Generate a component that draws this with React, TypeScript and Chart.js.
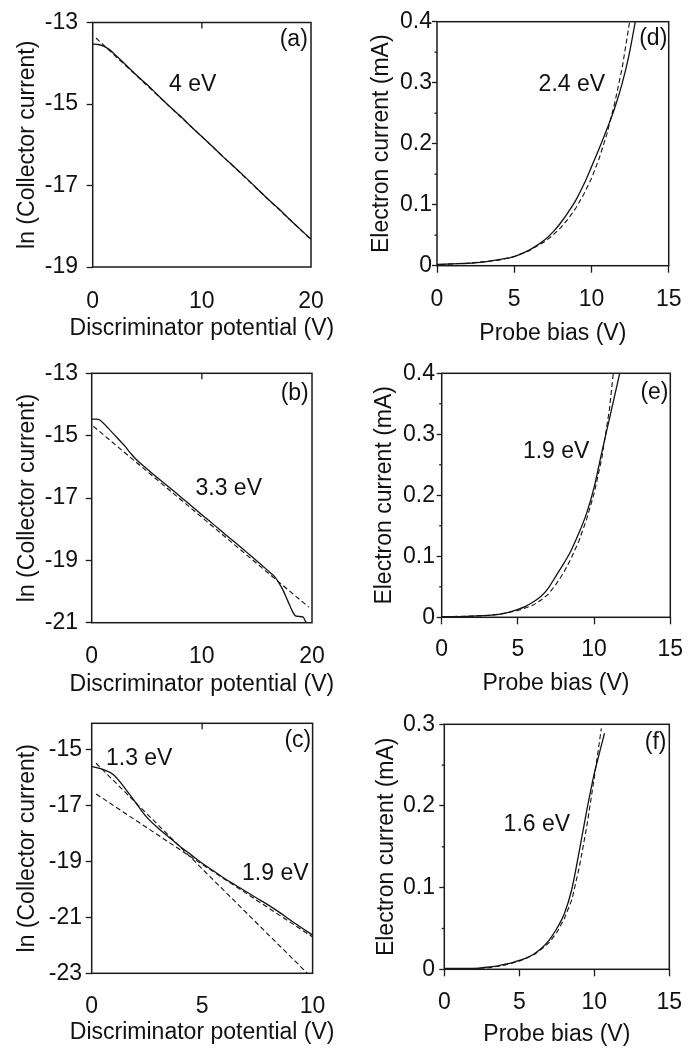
import React, { useEffect, useRef } from "react";
import { Chart, registerables } from "chart.js";

Chart.register(...registerables);

const FONT = '"Liberation Sans", Arial, Helvetica, sans-serif';
const INK = "#111111";

// ---------------- Data ----------------
// (a) 4 eV
const A_V = [0, 0.5, 1, 1.5, 2, 3, 4, 5, 6, 7, 8, 9, 10, 11, 12, 13, 14, 15, 16, 17, 18, 19, 20];
const A_LN = [-13.53, -13.54, -13.58, -13.66, -13.78, -14.03, -14.29, -14.53, -14.79, -15.05, -15.29, -15.55, -15.8, -16.05, -16.31, -16.55, -16.8, -17.06, -17.32, -17.56, -17.82, -18.07, -18.32];
const A_FIT_V = [0.3, 10, 20];
const A_FIT_LN = [-13.38, -15.8, -18.33];

// (b) 3.3 eV
const B_V = [0, 0.4, 0.7, 1, 1.5, 2, 2.5, 3, 3.5, 4, 5, 6, 7, 8, 9, 10, 11, 12, 13, 14, 15, 16, 16.6, 17, 17.4, 17.8, 18.2, 18.5, 18.8, 19.2, 19.4, 19.5];
const B_LN = [-14.47, -14.47, -14.49, -14.58, -14.76, -14.95, -15.14, -15.33, -15.55, -15.75, -16.06, -16.36, -16.65, -16.94, -17.24, -17.54, -17.83, -18.13, -18.42, -18.72, -19.02, -19.33, -19.52, -19.72, -19.98, -20.3, -20.62, -20.78, -20.8, -20.82, -20.95, -21.0];
const B_FIT_V = [0.15, 10, 19.7];
const B_FIT_LN = [-14.7, -17.62, -20.5];

// (c) 1.3 eV and 1.9 eV
const C_V = [0, 0.5, 1, 1.5, 2, 2.5, 3, 3.5, 4, 4.5, 5, 5.5, 6, 6.5, 7, 7.5, 8, 8.5, 9, 9.5, 10];
const C_LN = [-15.6, -15.7, -15.9, -16.37, -16.9, -17.42, -17.8, -18.13, -18.46, -18.76, -19.06, -19.33, -19.6, -19.84, -20.08, -20.32, -20.56, -20.82, -21.1, -21.37, -21.63];
const C_FIT1_V = [0.2, 5, 9.76];
const C_FIT1_LN = [-15.48, -19.26, -23.0];
const C_FIT2_V = [0.2, 5, 10];
const C_FIT2_LN = [-16.58, -19.1, -21.7];

// (d) 2.4 eV
const D_V = [0, 1, 2, 3, 4, 5, 6, 7, 7.5, 8, 8.5, 9, 9.5, 10, 10.5, 11, 11.5, 12, 12.4, 12.84];
const D_I = [0.002, 0.003, 0.004, 0.006, 0.01, 0.015, 0.026, 0.043, 0.055, 0.07, 0.088, 0.108, 0.133, 0.162, 0.192, 0.224, 0.258, 0.3, 0.342, 0.4];
const D_FIT_V = [0.2, 2, 4, 5, 6, 7, 7.5, 8, 8.5, 9, 9.5, 10, 10.5, 11, 11.5, 12, 12.47];
const D_FIT_I = [0.002, 0.004, 0.009, 0.015, 0.025, 0.04, 0.05, 0.062, 0.077, 0.095, 0.117, 0.143, 0.176, 0.216, 0.266, 0.326, 0.4];

// (e) 1.9 eV
const E_V = [0, 1, 2, 3, 3.5, 4, 4.5, 5, 5.5, 6, 6.5, 7, 7.5, 8, 8.5, 9, 9.5, 10, 10.5, 11, 11.68];
const E_I = [0.001, 0.001, 0.002, 0.003, 0.004, 0.006, 0.009, 0.013, 0.018, 0.025, 0.034, 0.048, 0.068, 0.088, 0.11, 0.138, 0.17, 0.213, 0.27, 0.325, 0.4];
const E_FIT_V = [0.2, 2, 3, 4, 5, 6, 6.5, 7, 7.5, 8, 8.5, 9, 9.5, 10, 10.5, 11, 11.26];
const E_FIT_I = [0.001, 0.002, 0.003, 0.006, 0.011, 0.02, 0.028, 0.038, 0.054, 0.073, 0.097, 0.125, 0.16, 0.203, 0.26, 0.34, 0.4];

// (f) 1.6 eV
const F_V = [0, 1, 2, 3, 3.5, 4, 4.5, 5, 5.5, 6, 6.5, 7, 7.5, 8, 8.5, 9, 9.5, 10, 10.3, 10.68];
const F_I = [0.001, 0.001, 0.001, 0.003, 0.004, 0.006, 0.008, 0.011, 0.014, 0.019, 0.026, 0.036, 0.05, 0.068, 0.098, 0.145, 0.195, 0.24, 0.262, 0.289];
const F_FIT_V = [0.2, 2, 3, 4, 5, 6, 6.5, 7, 7.5, 8, 8.5, 9, 9.5, 10, 10.47];
const F_FIT_I = [0.001, 0.001, 0.002, 0.005, 0.01, 0.018, 0.025, 0.033, 0.045, 0.062, 0.085, 0.125, 0.175, 0.235, 0.295];

// ---------------- Ticks and labels ----------------
const X_TICKS_AB = [0, 10, 20];
const X_TICKS_C = [0, 5, 10];
const X_TICKS_DEF = [0, 5, 10, 15];
const Y_TICKS_A = [-19, -17, -15, -13];
const Y_TICKS_B = [-21, -19, -17, -15, -13];
const Y_TICKS_C = [-23, -21, -19, -17, -15];
const Y_TICKS_DE = [0, 0.1, 0.2, 0.3, 0.4];
const Y_TICKS_F = [0, 0.1, 0.2, 0.3];
const Y_MINOR_DE = [0.05, 0.15, 0.25, 0.35];
const Y_MINOR_F = [0.05, 0.15, 0.25];

const X_TITLE_LEFT = "Discriminator potential (V)";
const Y_TITLE_LEFT = "ln (Collector current)";
const X_TITLE_RIGHT = "Probe bias (V)";
const Y_TITLE_RIGHT = "Electron current (mA)";

type Series = { x: number[]; y: number[]; dash: boolean };
type Note = { text: string; x: number; y: number };
type Panel = {
  id: string;
  canvas: { x: number; y: number; w: number; h: number };
  area: { l: number; r: number; t: number; b: number };
  yTitleX: number;
  xTitleY: number;
  yLabelRight: number;
  xLabelY: number;
  yTickLen: number;
  xTickLen: number;
  xMin: number;
  xMax: number;
  yMin: number;
  yMax: number;
  xTicks: number[];
  yTicks: number[];
  yMinor: number[];
  topTick: number | null;
  xTitle: string;
  yTitle: string;
  series: Series[];
  notes: Note[];
};

const PANELS: Panel[] = [
  {
    id: "a",
    canvas: { x: 0, y: 0, w: 345, h: 350 },
    area: { l: 92.7, r: 327, t: 20, b: 267 },
    yTitleX: 28, xTitleY: 329, yLabelRight: 78, xLabelY: 302,
    yTickLen: 6, xTickLen: 0,
    xMin: 0, xMax: 20, yMin: -19, yMax: -13,
    xTicks: X_TICKS_AB, yTicks: Y_TICKS_A, yMinor: [], topTick: 10,
    xTitle: X_TITLE_LEFT, yTitle: Y_TITLE_LEFT,
    series: [
      { x: A_V, y: A_LN, dash: false },
      { x: A_FIT_V, y: A_FIT_LN, dash: true },
    ],
    notes: [
      { text: "4 eV", x: 9.16, y: -14.53 },
      { text: "(a)", x: 18.42, y: -13.43 },
    ],
  },
  {
    id: "b",
    canvas: { x: 0, y: 345, w: 345, h: 355 },
    area: { l: 91.7, r: 327, t: 373.3, b: 622.7 },
    yTitleX: 28, xTitleY: 685, yLabelRight: 78, xLabelY: 656.7,
    yTickLen: 6, xTickLen: 0,
    xMin: 0, xMax: 20, yMin: -21, yMax: -13,
    xTicks: X_TICKS_AB, yTicks: Y_TICKS_B, yMinor: [], topTick: 10,
    xTitle: X_TITLE_LEFT, yTitle: Y_TITLE_LEFT,
    series: [
      { x: B_V, y: B_LN, dash: false },
      { x: B_FIT_V, y: B_FIT_LN, dash: true },
    ],
    notes: [
      { text: "3.3 eV", x: 12.44, y: -16.69 },
      { text: "(b)", x: 18.43, y: -13.66 },
    ],
  },
  {
    id: "c",
    canvas: { x: 0, y: 700, w: 345, h: 349 },
    area: { l: 91.7, r: 328.3, t: 723.3, b: 973.3 },
    yTitleX: 28, xTitleY: 1033, yLabelRight: 82, xLabelY: 1006.7,
    yTickLen: 6, xTickLen: 0,
    xMin: 0, xMax: 10, yMin: -23, yMax: -14.05,
    xTicks: X_TICKS_C, yTicks: Y_TICKS_C, yMinor: [], topTick: 5,
    xTitle: X_TITLE_LEFT, yTitle: Y_TITLE_LEFT,
    series: [
      { x: C_V, y: C_LN, dash: false },
      { x: C_FIT1_V, y: C_FIT1_LN, dash: true },
      { x: C_FIT2_V, y: C_FIT2_LN, dash: true },
    ],
    notes: [
      { text: "1.3 eV", x: 2.15, y: -15.3 },
      { text: "1.9 eV", x: 8.31, y: -19.44 },
      { text: "(c)", x: 9.33, y: -14.68 },
    ],
  },
  {
    id: "d",
    canvas: { x: 345, y: 0, w: 350, h: 350 },
    area: { l: 437, r: 680, t: 21.7, b: 265.7 },
    yTitleX: 381.7, xTitleY: 334, yLabelRight: 432, xLabelY: 300,
    yTickLen: 5, xTickLen: 7,
    xMin: 0, xMax: 15, yMin: 0, yMax: 0.4,
    xTicks: X_TICKS_DEF, yTicks: Y_TICKS_DE, yMinor: Y_MINOR_DE, topTick: null,
    xTitle: X_TITLE_RIGHT, yTitle: Y_TITLE_RIGHT,
    series: [
      { x: D_V, y: D_I, dash: false },
      { x: D_FIT_V, y: D_FIT_I, dash: true },
    ],
    notes: [
      { text: "2.4 eV", x: 8.73, y: 0.296 },
      { text: "(d)", x: 14.0, y: 0.372 },
    ],
  },
  {
    id: "e",
    canvas: { x: 345, y: 345, w: 350, h: 355 },
    area: { l: 441.7, r: 679, t: 373.3, b: 617.3 },
    yTitleX: 385, xTitleY: 684, yLabelRight: 435, xLabelY: 650,
    yTickLen: 5, xTickLen: 7,
    xMin: 0, xMax: 15, yMin: 0, yMax: 0.4,
    xTicks: X_TICKS_DEF, yTicks: Y_TICKS_DE, yMinor: Y_MINOR_DE, topTick: null,
    xTitle: X_TITLE_RIGHT, yTitle: Y_TITLE_RIGHT,
    series: [
      { x: E_V, y: E_I, dash: false },
      { x: E_FIT_V, y: E_FIT_I, dash: true },
    ],
    notes: [
      { text: "1.9 eV", x: 7.51, y: 0.2715 },
      { text: "(e)", x: 13.96, y: 0.3685 },
    ],
  },
  {
    id: "f",
    canvas: { x: 345, y: 700, w: 350, h: 349 },
    area: { l: 444.3, r: 679.3, t: 724.3, b: 969.3 },
    yTitleX: 386.7, xTitleY: 1035, yLabelRight: 435, xLabelY: 1003,
    yTickLen: 5, xTickLen: 7,
    xMin: 0, xMax: 15, yMin: 0, yMax: 0.3,
    xTicks: X_TICKS_DEF, yTicks: Y_TICKS_F, yMinor: Y_MINOR_F, topTick: null,
    xTitle: X_TITLE_RIGHT, yTitle: Y_TITLE_RIGHT,
    series: [
      { x: F_V, y: F_I, dash: false },
      { x: F_FIT_V, y: F_FIT_I, dash: true },
    ],
    notes: [
      { text: "1.6 eV", x: 6.17, y: 0.1767 },
      { text: "(f)", x: 14.09, y: 0.2777 },
    ],
  },
];

const TICK_SIZE = 23;
const TITLE_SIZE = 23;
const NOTE_SIZE = 23;

function fmt(v: number): string {
  return String(v);
}

function buildConfig(p: Panel): any {
  const c = p.canvas;
  const padTop = p.area.t - c.y;
  const padRight = c.x + c.w - p.area.r;
  const yWidth = p.area.l - c.x;
  const xHeight = c.y + c.h - p.area.b;
  const tickLH = TICK_SIZE * 1.2;
  const titleLH = TITLE_SIZE * 1.2;
  const yTitlePad = Math.max(0, p.yTitleX - c.x - titleLH / 2);
  const yTickPad = Math.max(0, p.area.l - p.yLabelRight - p.yTickLen);
  const xTickPad = Math.max(0, p.xLabelY - p.area.b - p.xTickLen - tickLH / 2);

  const framePlugin = {
    id: "frame" + p.id,
    afterDraw(chart: any) {
      const { ctx, chartArea } = chart;
      const xs = chart.scales.x;
      const ys = chart.scales.y;
      ctx.save();
      ctx.strokeStyle = "#1a1a1a";
      ctx.lineWidth = 1.5;
      ctx.strokeRect(chartArea.left, chartArea.top, chartArea.right - chartArea.left, chartArea.bottom - chartArea.top);
      ctx.lineWidth = 1.3;
      if (p.topTick !== null) {
        const px = xs.getPixelForValue(p.topTick);
        ctx.beginPath();
        ctx.moveTo(px, chartArea.top);
        ctx.lineTo(px, chartArea.top + 6);
        ctx.stroke();
      }
      for (const v of p.yMinor) {
        const py = ys.getPixelForValue(v);
        ctx.beginPath();
        ctx.moveTo(chartArea.left, py);
        ctx.lineTo(chartArea.left - 2.5, py);
        ctx.stroke();
      }
      ctx.fillStyle = INK;
      ctx.textAlign = "center";
      ctx.textBaseline = "middle";
      ctx.font = `${NOTE_SIZE}px ${FONT}`;
      for (const n of p.notes) {
        ctx.fillText(n.text, xs.getPixelForValue(n.x), ys.getPixelForValue(n.y));
      }
      // x-axis title (drawn unsqueezed, centred on the plot)
      ctx.font = `${TITLE_SIZE}px ${FONT}`;
      ctx.fillText(p.xTitle, (chartArea.left + chartArea.right) / 2, p.xTitleY - c.y);
      ctx.restore();
    },
  };

  const datasets = p.series.map((s) => ({
    data: s.x.map((x, i) => ({ x, y: s.y[i] })),
    borderColor: INK,
    borderWidth: s.dash ? 1.1 : 1.3,
    borderDash: s.dash ? [5, 3] : [],
    pointRadius: 0,
    tension: s.dash ? 0 : 0.4,
    cubicInterpolationMode: s.dash ? "default" : "monotone",
    fill: false,
  }));

  return {
    type: "line",
    data: { datasets },
    options: {
      responsive: false,
      maintainAspectRatio: false,
      animation: false,
      events: [],
      layout: { padding: { left: 0, top: padTop, right: padRight, bottom: 0 } },
      plugins: { legend: { display: false }, tooltip: { enabled: false } },
      scales: {
        x: {
          type: "linear",
          min: p.xMin,
          max: p.xMax,
          afterBuildTicks: (s: any) => {
            s.ticks = p.xTicks.map((v) => ({ value: v }));
          },
          afterFit: (s: any) => {
            s.height = xHeight;
          },
          border: { display: false },
          grid: {
            display: true,
            drawOnChartArea: false,
            drawTicks: p.xTickLen > 0,
            tickLength: p.xTickLen,
            tickColor: "#1a1a1a",
            tickWidth: 1.3,
          },
          ticks: {
            color: INK,
            font: { family: FONT, size: TICK_SIZE },
            padding: xTickPad,
            maxRotation: 0,
            autoSkip: false,
            callback: (v: number) => fmt(v),
          },
          title: { display: false },
        },
        y: {
          type: "linear",
          min: p.yMin,
          max: p.yMax,
          afterBuildTicks: (s: any) => {
            s.ticks = p.yTicks.map((v) => ({ value: v }));
          },
          afterFit: (s: any) => {
            s.width = yWidth;
          },
          border: { display: false },
          grid: {
            display: true,
            drawOnChartArea: false,
            drawTicks: true,
            tickLength: p.yTickLen,
            tickColor: "#1a1a1a",
            tickWidth: 1.3,
          },
          ticks: {
            color: INK,
            font: { family: FONT, size: TICK_SIZE },
            padding: yTickPad,
            autoSkip: false,
            callback: (v: number) => fmt(v),
          },
          title: {
            display: true,
            text: p.yTitle,
            color: INK,
            font: { family: FONT, size: TITLE_SIZE },
            padding: { top: yTitlePad, bottom: 0 },
          },
        },
      },
    },
    plugins: [framePlugin],
  };
}

function PanelChart({ panel }: { panel: Panel }) {
  const ref = useRef<HTMLCanvasElement | null>(null);
  useEffect(() => {
    if (!ref.current) return;
    const chart = new Chart(ref.current, buildConfig(panel));
    return () => chart.destroy();
  }, [panel]);
  const c = panel.canvas;
  return (
    <div style={{ position: "absolute", left: c.x, top: c.y, width: c.w, height: c.h }}>
      <canvas ref={ref} width={c.w} height={c.h} style={{ width: c.w, height: c.h, display: "block" }} />
    </div>
  );
}

export default function App() {
  return (
    <div style={{ position: "absolute", left: 0, top: 0, width: 695, height: 1049, background: "#ffffff", overflow: "hidden" }}>
      {PANELS.map((p) => (
        <PanelChart key={p.id} panel={p} />
      ))}
    </div>
  );
}
